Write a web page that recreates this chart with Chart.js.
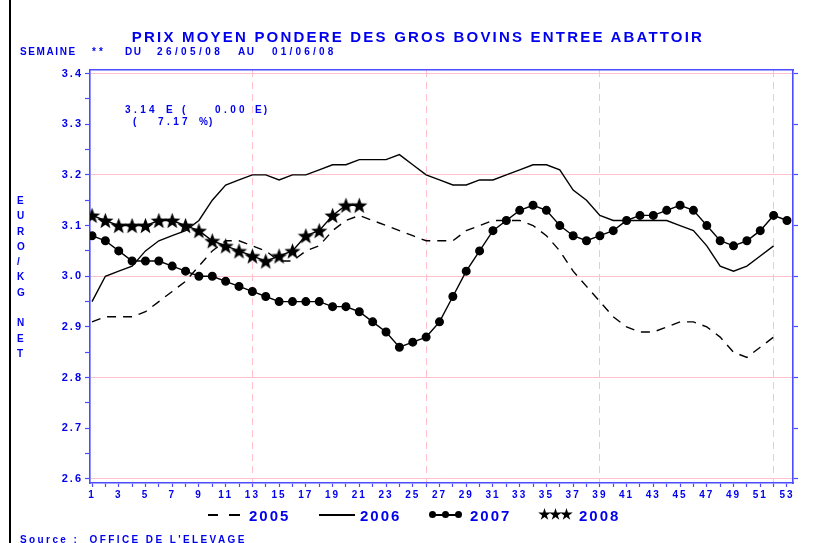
<!DOCTYPE html>
<html>
<head>
<meta charset="utf-8">
<script src="https://cdn.jsdelivr.net/npm/chart.js@4"></script>
<style>
  body { margin: 0; background: #fff; }
  #wrap { position: relative; width: 817px; height: 543px; overflow: hidden; background: #fff; }
  #wrap canvas { position: absolute; left: 0; top: 0; }
  .txt { position: absolute; color: #0000ee; font-family: "Liberation Sans", Arial, sans-serif; font-weight: bold; white-space: pre; line-height: 1; }
  .s10 { font-size: 10px; }
  .blk { position: absolute; background: #000; }
  .dot { position: absolute; width: 7px; height: 7px; border-radius: 50%; background: #000; }
  .star { position: absolute; width: 13px; height: 13px; background: #000;
    clip-path: polygon(50% 0%, 61% 35%, 98% 35%, 68% 57%, 79% 91%, 50% 70%, 21% 91%, 32% 57%, 2% 35%, 39% 35%); }
</style>
</head>
<body>
<div id="wrap">
  <canvas id="chart" width="817" height="543"></canvas>
  <div class="blk" style="left:9px;top:0;width:2px;height:543px"></div>

  <div class="txt" style="left:0;width:836px;top:29px;font-size:15px;letter-spacing:2.2px;text-align:center">PRIX MOYEN PONDERE DES GROS BOVINS ENTREE ABATTOIR</div>

  <!-- subtitle -->
  <div class="txt s10" style="left:20px;top:47px;letter-spacing:1.6px">SEMAINE</div>
  <div class="txt s10" style="left:92px;top:47px;letter-spacing:3px">**</div>
  <div class="txt s10" style="left:125px;top:47px;letter-spacing:1.6px">DU</div>
  <div class="txt s10" style="left:157px;top:47px;letter-spacing:3.4px">26/05/08</div>
  <div class="txt s10" style="left:238px;top:47px;letter-spacing:1.6px">AU</div>
  <div class="txt s10" style="left:272px;top:47px;letter-spacing:3.2px">01/06/08</div>

  <div class="txt s10" style="left:17px;top:193px;line-height:15.3px;white-space:normal;width:8px">E<br>U<br>R<br>O<br>/<br>K<br>G<br><br>N<br>E<br>T</div>

  <!-- annotation -->
  <div class="txt s10" style="left:125px;top:105px;letter-spacing:3.4px">3.14</div>
  <div class="txt s10" style="left:166px;top:105px">E</div>
  <div class="txt s10" style="left:182px;top:105px">(</div>
  <div class="txt s10" style="left:215px;top:105px;letter-spacing:3.4px">0.00</div>
  <div class="txt s10" style="left:255px;top:105px;letter-spacing:2px">E)</div>
  <div class="txt s10" style="left:133px;top:117px">(</div>
  <div class="txt s10" style="left:158px;top:117px;letter-spacing:3.4px">7.17</div>
  <div class="txt s10" style="left:199px;top:117px;letter-spacing:1px">%)</div>

  <!-- legend -->
  <div class="blk" style="left:208px;top:514px;width:10px;height:2px"></div>
  <div class="blk" style="left:229px;top:514px;width:11px;height:2px"></div>
  <div class="txt" style="left:249px;top:508px;font-size:15px;letter-spacing:2px">2005</div>
  <div class="blk" style="left:319px;top:514px;width:36px;height:2px"></div>
  <div class="txt" style="left:360px;top:508px;font-size:15px;letter-spacing:2px">2006</div>
  <div class="blk" style="left:431px;top:514px;width:29px;height:2px"></div>
  <div class="dot" style="left:429px;top:511px"></div>
  <div class="dot" style="left:442px;top:511px"></div>
  <div class="dot" style="left:455px;top:511px"></div>
  <div class="txt" style="left:470px;top:508px;font-size:15px;letter-spacing:2px">2007</div>
  <div class="star" style="left:538px;top:508px"></div>
  <div class="star" style="left:549px;top:508px"></div>
  <div class="star" style="left:560px;top:508px"></div>
  <div class="txt" style="left:579px;top:508px;font-size:15px;letter-spacing:2px">2008</div>

  <div class="txt s10" style="left:20px;top:535px;letter-spacing:2.4px">Source :  OFFICE DE L'ELEVAGE</div>
</div>
<script>
// weeks and yearly prices (euro / kg net)
const weeks = [1, 2, 3, 4, 5, 6, 7, 8, 9, 10, 11, 12, 13, 14, 15, 16, 17, 18, 19, 20,
  21, 22, 23, 24, 25, 26, 27, 28, 29, 30, 31, 32, 33, 34, 35, 36, 37, 38, 39, 40,
  41, 42, 43, 44, 45, 46, 47, 48, 49, 50, 51, 52, 53];

const prix2005 = [2.91, 2.92, 2.92, 2.92, 2.93, 2.95, 2.97, 2.99, 3.02, 3.05,
  3.07, 3.07, 3.06, 3.05, 3.03, 3.03, 3.05, 3.06, 3.09, 3.11,
  3.12, 3.11, 3.10, 3.09, 3.08, 3.07, 3.07, 3.07, 3.09, 3.10,
  3.11, 3.11, 3.11, 3.10, 3.08, 3.05, 3.01, 2.98, 2.95, 2.92,
  2.90, 2.89, 2.89, 2.90, 2.91, 2.91, 2.90, 2.88, 2.85, 2.84, 2.86, 2.88];

const prix2006 = [2.95, 3.00, 3.01, 3.02, 3.05, 3.07, 3.08, 3.09, 3.11, 3.15,
  3.18, 3.19, 3.20, 3.20, 3.19, 3.20, 3.20, 3.21, 3.22, 3.22,
  3.23, 3.23, 3.23, 3.24, 3.22, 3.20, 3.19, 3.18, 3.18, 3.19,
  3.19, 3.20, 3.21, 3.22, 3.22, 3.21, 3.17, 3.15, 3.12, 3.11,
  3.11, 3.11, 3.11, 3.11, 3.10, 3.09, 3.06, 3.02, 3.01, 3.02, 3.04, 3.06];

const prix2007 = [3.08, 3.07, 3.05, 3.03, 3.03, 3.03, 3.02, 3.01, 3.00, 3.00,
  2.99, 2.98, 2.97, 2.96, 2.95, 2.95, 2.95, 2.95, 2.94, 2.94,
  2.93, 2.91, 2.89, 2.86, 2.87, 2.88, 2.91, 2.96, 3.01, 3.05,
  3.09, 3.11, 3.13, 3.14, 3.13, 3.10, 3.08, 3.07, 3.08, 3.09,
  3.11, 3.12, 3.12, 3.13, 3.14, 3.13, 3.10, 3.07, 3.06, 3.07, 3.09, 3.12, 3.11];

const prix2008 = [3.12, 3.11, 3.10, 3.10, 3.10, 3.11, 3.11, 3.10, 3.09, 3.07,
  3.06, 3.05, 3.04, 3.03, 3.04, 3.05, 3.08, 3.09, 3.12, 3.14, 3.14];

const quarterWeeks = [13, 26, 39, 52];

const BLUE = '#0000ee';
const AXIS = '#4b4bff';
const PINK = '#ffc0cb';
const NONE = 'rgba(0,0,0,0)';

function toPoints(values) {
  return values.map((v, i) => ({ x: weeks[i], y: v }));
}

// filled five point star used as point style for 2008
function makeStar(size) {
  const c = document.createElement('canvas');
  c.width = size;
  c.height = size;
  const g = c.getContext('2d');
  g.fillStyle = '#000';
  g.beginPath();
  for (let i = 0; i < 10; i++) {
    const r = i % 2 === 0 ? size / 2 : size * 0.21;
    const a = -Math.PI / 2 + i * Math.PI / 5;
    g.lineTo(size / 2 + r * Math.cos(a), size / 2 + 0.8 + r * Math.sin(a));
  }
  g.closePath();
  g.fill();
  return c;
}
const star = makeStar(17);

const tickFont = { family: '"Liberation Sans", Arial, sans-serif', size: 10, weight: 'bold' };

// wider letter spacing for the axis labels, like the original print
const spacing = {
  id: 'spacing',
  beforeDraw(chart) { chart.ctx.letterSpacing = '2px'; }
};

new Chart(document.getElementById('chart'), {
  type: 'line',
  data: {
    datasets: [
      { label: '2005', data: toPoints(prix2005), borderColor: '#000', borderWidth: 1.4,
        borderDash: [9, 7], pointRadius: 0, tension: 0 },
      { label: '2006', data: toPoints(prix2006), borderColor: '#000', borderWidth: 1.4,
        pointRadius: 0, tension: 0 },
      { label: '2007', data: toPoints(prix2007), borderColor: '#000', borderWidth: 1.4,
        pointRadius: 3.8, pointBackgroundColor: '#000', pointBorderColor: '#000', tension: 0 },
      { label: '2008', data: toPoints(prix2008), borderColor: '#000', borderWidth: 1.4,
        pointStyle: star, pointRadius: 8, tension: 0 }
    ]
  },
  options: {
    responsive: false,
    animation: false,
    devicePixelRatio: 1,
    layout: { padding: { top: 70, left: 0, right: 0, bottom: 0 } },
    plugins: { legend: { display: false }, tooltip: { enabled: false } },
    scales: {
      x: {
        type: 'linear',
        position: 'bottom',
        min: 0.85,
        max: 53.45,
        afterFit: (s) => { s.height = 60; },
        ticks: {
          stepSize: 1,
          includeBounds: false,
          autoSkip: false,
          maxRotation: 0,
          padding: 2,
          color: BLUE,
          font: tickFont,
          callback: (v) => (v % 2 === 1 ? String(v) : '')
        },
        grid: {
          color: (c) => (c.tick && quarterWeeks.includes(c.tick.value) ? PINK : NONE),
          lineWidth: 1,
          tickColor: AXIS,
          tickLength: 4,
          tickWidth: 1.2
        },
        border: { color: AXIS, width: 1.6, dash: [7, 5] }
      },
      xTop: {
        type: 'linear',
        position: 'top',
        min: 0.85,
        max: 53.45,
        afterFit: (s) => { s.height = 0; },
        ticks: { display: false },
        grid: { drawOnChartArea: false, drawTicks: false },
        border: { color: AXIS, width: 1.6 }
      },
      y: {
        position: 'left',
        min: 2.5921,
        max: 3.4069,
        afterFit: (s) => { s.width = 90; },
        ticks: {
          stepSize: 0.05,
          includeBounds: false,
          autoSkip: false,
          padding: 2,
          color: BLUE,
          font: { family: '"Liberation Sans", Arial, sans-serif', size: 11, weight: 'bold' },
          callback: (v) => (Math.round(v * 100) % 10 === 0 ? v.toFixed(1) : '')
        },
        grid: {
          color: (c) => (c.tick && Math.round(c.tick.value * 100) % 20 === 0 ? PINK : NONE),
          lineWidth: 1,
          tickColor: AXIS,
          tickLength: 5,
          tickWidth: 1.2
        },
        border: { color: AXIS, width: 1.6 }
      },
      yRight: {
        position: 'right',
        min: 2.5921,
        max: 3.4069,
        afterFit: (s) => { s.width = 24; },
        ticks: { stepSize: 0.1, includeBounds: false, display: false },
        grid: { drawOnChartArea: false, tickColor: AXIS, tickLength: 5, tickWidth: 1.2 },
        border: { color: AXIS, width: 1.6 }
      }
    }
  },
  plugins: [spacing]
});
</script>
</body>
</html>
